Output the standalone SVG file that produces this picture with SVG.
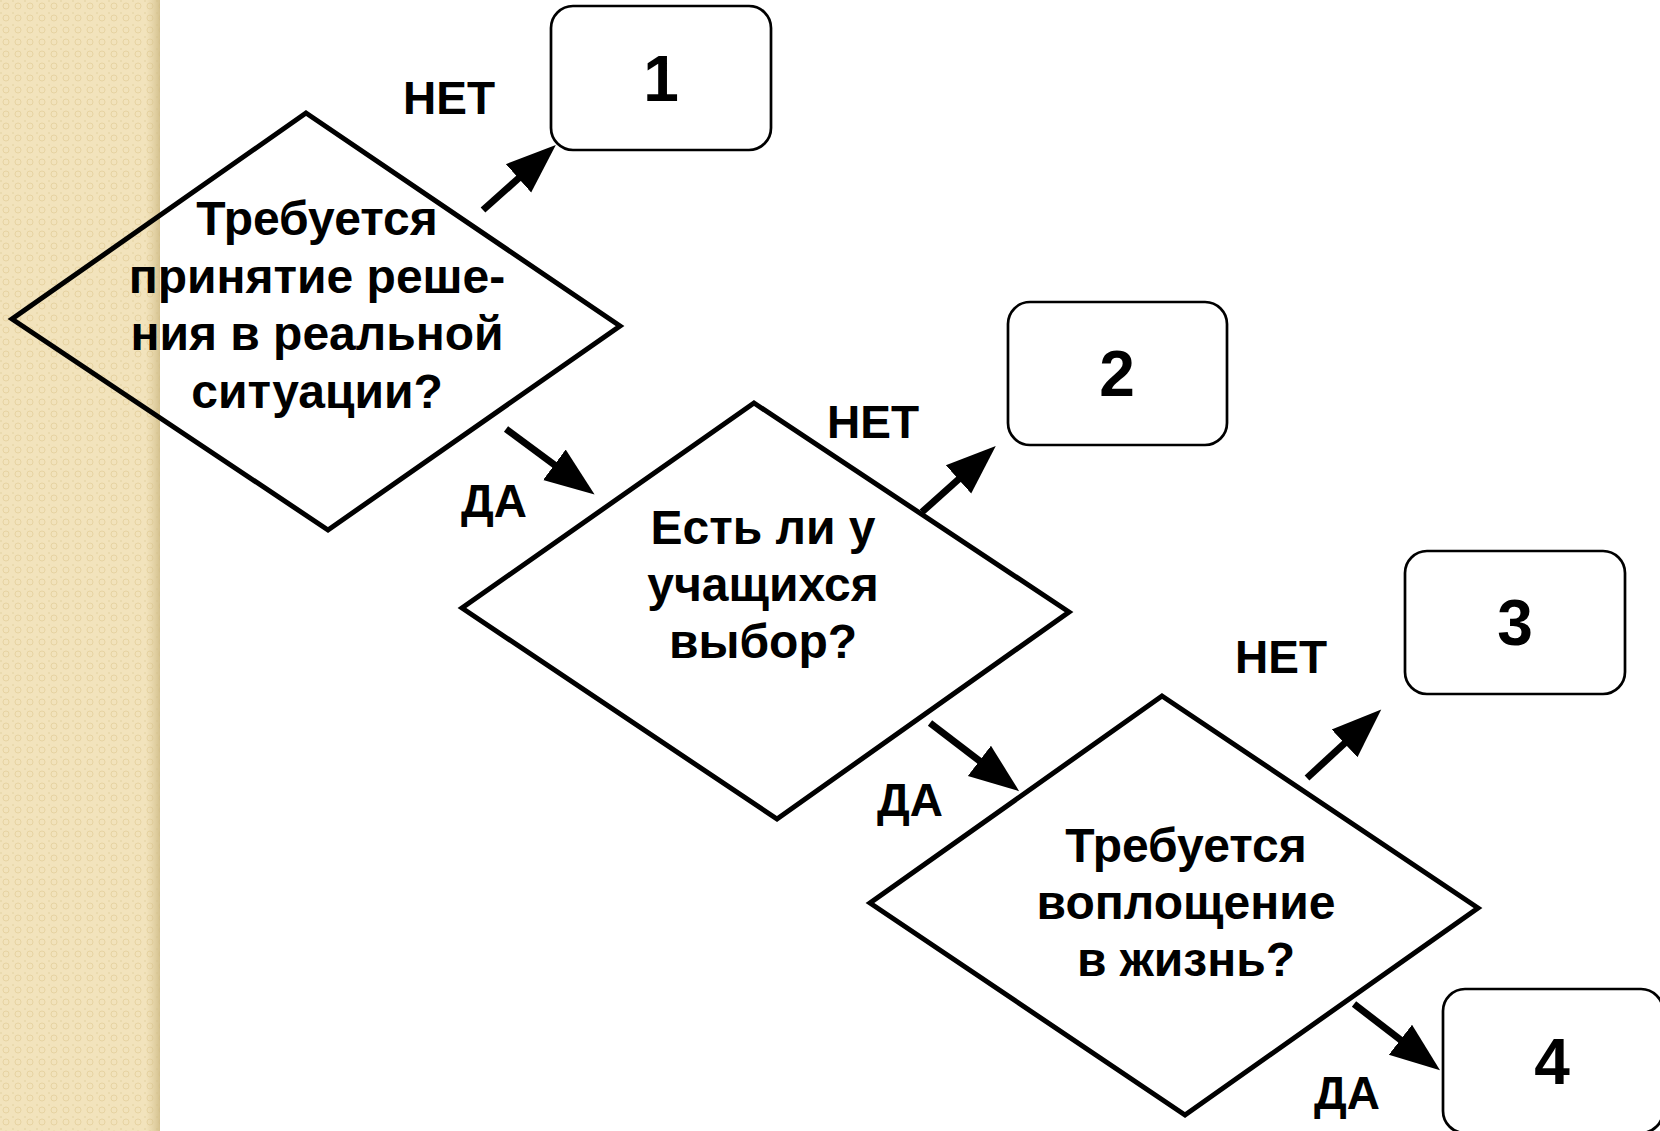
<svg xmlns="http://www.w3.org/2000/svg" width="1660" height="1131" viewBox="0 0 1660 1131">
  <defs>
    <pattern id="tex" width="12" height="12" patternUnits="userSpaceOnUse">
      <rect width="12" height="12" fill="#F2E3BC"/>
      <circle cx="6" cy="6" r="3" fill="none" stroke="#E6D3A2" stroke-width="1"/>
      <rect x="0" y="0" width="2" height="2" fill="#EADAAE"/>
    </pattern>
    <linearGradient id="shade" x1="0" y1="0" x2="1" y2="0">
      <stop offset="0" stop-color="#D8C592" stop-opacity="0"/>
      <stop offset="1" stop-color="#CDB984" stop-opacity="0.8"/>
    </linearGradient>
    <marker id="ah" markerUnits="userSpaceOnUse" markerWidth="60" markerHeight="50" refX="2" refY="19" orient="auto" viewBox="0 0 60 38">
      <path d="M0,0 L50,19 L0,38 Z" fill="#000"/>
    </marker>
  </defs>
  <style>
    .dia { fill: none; stroke: #000; stroke-width: 5; stroke-linejoin: miter; }
    .box { fill: #fff; stroke: #000; stroke-width: 2.7; }
    .q { font-family: "Liberation Sans", Arial, sans-serif; font-weight: bold; font-size: 48px; text-anchor: middle; fill: #000; }
    .num { font-family: "Liberation Sans", Arial, sans-serif; font-weight: bold; font-size: 64px; text-anchor: middle; fill: #000; }
    .lbl { font-family: "Liberation Sans", Arial, sans-serif; font-weight: bold; font-size: 46px; text-anchor: middle; fill: #000; }
    .arr { stroke: #000; stroke-width: 7; fill: none; marker-end: url(#ah); }
  </style>
  <rect width="1660" height="1131" fill="#fff"/>
  <rect x="0" y="0" width="160" height="1131" fill="url(#tex)"/>
  <rect x="146" y="0" width="14" height="1131" fill="url(#shade)"/>

  <g id="connectors">
    <line class="arr" x1="483" y1="210" x2="520" y2="177"/>
    <line class="arr" x1="506" y1="429" x2="556" y2="466"/>
    <line class="arr" x1="922" y1="512" x2="960" y2="478"/>
    <line class="arr" x1="930" y1="723" x2="981" y2="762"/>
    <line class="arr" x1="1307" y1="778" x2="1346" y2="742"/>
    <line class="arr" x1="1354" y1="1004" x2="1402" y2="1041"/>
  </g>

  <g id="labels">
    <text class="lbl" x="449" y="114">НЕТ</text>
    <text class="lbl" x="494" y="517">ДА</text>
    <text class="lbl" x="873" y="438">НЕТ</text>
    <text class="lbl" x="910" y="816">ДА</text>
    <text class="lbl" x="1281" y="673">НЕТ</text>
    <text class="lbl" x="1347" y="1109">ДА</text>
  </g>

  <g id="d1">
    <polygon class="dia" points="306,113 620,326 328,530 12,319"/>
    <text class="q" x="317" y="235">Требуется</text>
    <text class="q" x="317" y="293">принятие реше-</text>
    <text class="q" x="317" y="350">ния в реальной</text>
    <text class="q" x="317" y="408">ситуации?</text>
  </g>

  <g id="d2">
    <polygon class="dia" points="754,403 1069,612 777,819 462,608"/>
    <text class="q" x="763" y="544">Есть ли у</text>
    <text class="q" x="763" y="601">учащихся</text>
    <text class="q" x="763" y="658">выбор?</text>
  </g>

  <g id="d3">
    <polygon class="dia" points="1162,696 1478,908 1185,1115 870,903"/>
    <text class="q" x="1186" y="862">Требуется</text>
    <text class="q" x="1186" y="919">воплощение</text>
    <text class="q" x="1186" y="976">в жизнь?</text>
  </g>

  <g id="b1">
    <rect class="box" x="551" y="6" width="220" height="144" rx="22"/>
    <text class="num" x="661" y="101">1</text>
  </g>
  <g id="b2">
    <rect class="box" x="1008" y="302" width="219" height="143" rx="22"/>
    <text class="num" x="1117" y="396">2</text>
  </g>
  <g id="b3">
    <rect class="box" x="1405" y="551" width="220" height="143" rx="22"/>
    <text class="num" x="1515" y="645">3</text>
  </g>
  <g id="b4">
    <rect class="box" x="1443" y="989" width="220" height="144" rx="22"/>
    <text class="num" x="1552" y="1084">4</text>
  </g>
</svg>
